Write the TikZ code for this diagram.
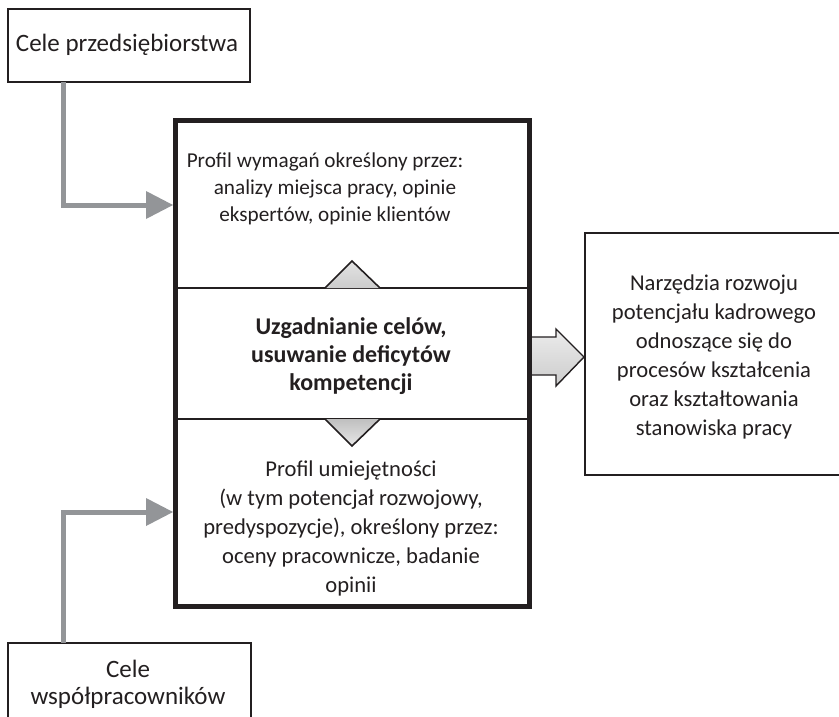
\documentclass[tikz,border=0pt]{standalone}
\usepackage{fontspec}
\setmainfont{Carlito}
\usetikzlibrary{calc}
\definecolor{ink}{HTML}{231F20}
\definecolor{linkgrey}{HTML}{939598}
\tikzset{
  plainbox/.style={draw=ink, line width=2pt, fill=white},
  txt/.style={text=ink, font=\fontsize{22.6pt}{29pt}\selectfont, align=center, inner sep=0pt},
  bigtxt/.style={txt, font=\fontsize{25pt}{27pt}\selectfont},
  link/.style={draw=linkgrey, line width=5pt},
  linkhead/.style={fill=linkgrey, draw=none},
  tri/.style={draw=ink, line width=1.6pt, line join=miter},
}
\begin{document}
\begin{tikzpicture}[x=1pt,y=-1pt]
\useasboundingbox (0,0) rectangle (839,716);
\clip (0,0) rectangle (839,716);

% source boxes on the left
\draw[plainbox] (8,9) rectangle (250,82);
\node[bigtxt] (firm) at (127,45) {Cele przedsiębiorstwa};
\draw[plainbox] (8,643) rectangle (251,740);
\node[bigtxt] (staff) at (128,684) {Cele\\współpracowników};

% central column with three sections
\draw[ink, line width=2pt] (175.5,288) -- (529.5,288);
\draw[ink, line width=2pt] (175.5,419) -- (529.5,419);
\draw[ink, line width=5pt, line join=miter] (175.5,120.5) rectangle (529.5,606.5);
\coordinate (boxW1) at (173,205);
\coordinate (boxW2) at (173,512);

\node[txt, font=\fontsize{21.2pt}{27pt}\selectfont] (req) at (335,189)
  {Profil wymagań określony przez:\hspace*{20pt}\\analizy miejsca pracy, opinie\\ekspertów, opinie klientów};
\node[txt, font=\fontsize{24pt}{28pt}\selectfont\bfseries] (align) at (351,356)
  {Uzgadnianie celów,\\usuwanie deficytów\\kompetencji};
\node[txt] (skills) at (351,528)
  {Profil umiejętności\\(w tym potencjał rozwojowy,\\predyspozycje), określony przez:\\oceny pracownicze, badanie\\opinii};

% triangles between the sections
\shade[top color=gray!22, bottom color=gray!40] (325,288) -- (352,261) -- (380,288) -- cycle;
\draw[tri] (325,288) -- (352,261) -- (380,288);
\shade[top color=gray!50, bottom color=gray!18] (325,419) -- (352,446) -- (380,419) -- cycle;
\draw[tri] (325,419) -- (352,446) -- (380,419);

% target box on the right
\draw[plainbox] (585,233) rectangle (845,475);
\node[txt] (tools) at (714,357)
  {Narzędzia rozwoju\\potencjału kadrowego\\odnoszące się do\\procesów kształcenia\\oraz kształtowania\\stanowiska pracy};

% block arrow into the right box
\shade[top color=gray!15, bottom color=gray!40, draw=ink, line width=1.4pt, line join=miter]
  (532,337) -- (556,337) -- (556,329) -- (584,357) -- (556,386) -- (556,375) -- (532,375);

% grey connectors from the goal boxes
\coordinate (c1) at (63,205);
\coordinate (c2) at (63,512);
\draw[link] (63,82) -- (c1) -- (148,205);
\fill[linkhead] (146,191) -- (boxW1) -- (146,219) -- cycle;
\draw[link] (63,643) -- (c2) -- (148,512);
\fill[linkhead] (146,498) -- (boxW2) -- (146,526) -- cycle;
\end{tikzpicture}
\end{document}
